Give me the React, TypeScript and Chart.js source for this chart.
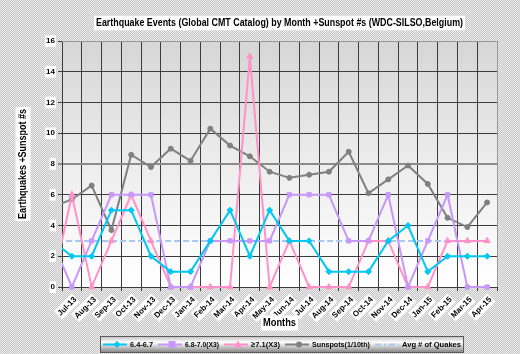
import React, { useEffect, useRef } from 'react';
import { Chart, registerables } from 'chart.js';

Chart.register(...registerables);

// Jun-13 is a leading month that lies just off the left edge of the axis (only its line segment shows)
const months = [
  'Jun-13', 'Jul-13', 'Aug-13', 'Sep-13', 'Oct-13', 'Nov-13', 'Dec-13',
  'Jan-14', 'Feb-14', 'Mar-14', 'Apr-14', 'May-14', 'Jun-14', 'Jul-14',
  'Aug-14', 'Sep-14', 'Oct-14', 'Nov-14', 'Dec-14', 'Jan-15', 'Feb-15',
  'Mar-15', 'Apr-15',
];
const quakes64to67 = [3, 2, 2, 5, 5, 2, 1, 1, 3, 5, 2, 5, 3, 3, 1, 1, 1, 3, 4, 1, 2, 2, 2];
const quakes68to70x3 = [3, 0, 3, 6, 6, 6, 0, 0, 3, 3, 3, 3, 6, 6, 6, 3, 3, 6, 0, 3, 6, 0, 0];
const quakes71plusx3 = [0, 6, 0, 3, 6, 3, 0, 0, 0, 0, 15, 0, 3, 0, 0, 0, 3, 3, 0, 0, 3, 3, 3];
const sunspotsTenth = [5.2, 5.7, 6.6, 3.7, 8.6, 7.8, 9.0, 8.2, 10.3, 9.2, 8.5, 7.5, 7.1, 7.3, 7.5, 8.8, 6.1, 7.0, 7.9, 6.7, 4.5, 3.9, 5.5];
const avgQuakes = [3, 3, 3, 3, 3, 3, 3, 3, 3, 3, 3, 3, 3, 3, 3, 3, 3, 3, 3, 3, 3, 3, 3];

const seriesNames = ['6.4-6.7', '6.8-7.0(X3)', '\u22657.1(X3)', 'Sunspots(1/10th)', 'Avg # of Quakes'];
const seriesColors = ['#00c8f2', '#c898f8', '#ff92c8', '#808080', '#a6c8f2'];
const seriesMarkers = ['rectRot', 'rect', 'triangle', 'circle', 'none'];

const chartTitle = 'Earthquake Events (Global CMT Catalog) by Month +Sunspot #s (WDC-SILSO,Belgium)';
const yTitle = 'Earthquakes +Sunspot #s';
const xTitle = 'Months';

const FONT = "'Liberation Sans', Arial, sans-serif";

function boxedText(ctx: CanvasRenderingContext2D, text: string, x: number, y: number, font: string, maxW: number, pad = 2) {
  ctx.font = font;
  const w = Math.min(ctx.measureText(text).width, maxW);
  const size = parseFloat(font.match(/(\d+(\.\d+)?)px/)![1]);
  ctx.fillStyle = '#ffffff';
  ctx.fillRect(x - w / 2 - pad, y - size / 2 - pad, w + pad * 2, size + pad * 2);
  ctx.fillStyle = '#000000';
  ctx.textAlign = 'center';
  ctx.textBaseline = 'middle';
  ctx.fillText(text, x, y, maxW);
}

function marker(ctx: CanvasRenderingContext2D, kind: string, x: number, y: number, color: string) {
  ctx.fillStyle = color;
  ctx.beginPath();
  if (kind === 'rectRot') {
    ctx.moveTo(x, y - 3.5); ctx.lineTo(x + 3.5, y); ctx.lineTo(x, y + 3.5); ctx.lineTo(x - 3.5, y);
  } else if (kind === 'rect') {
    ctx.rect(x - 3.5, y - 3.5, 7, 7);
  } else if (kind === 'triangle') {
    ctx.moveTo(x, y - 4); ctx.lineTo(x + 4, y + 3); ctx.lineTo(x - 4, y + 3);
  } else if (kind === 'circle') {
    ctx.arc(x, y, 3, 0, Math.PI * 2);
  } else {
    return;
  }
  ctx.closePath();
  ctx.fill();
}

const decorPlugin = {
  id: 'decor',
  beforeDraw(chart: any) {
    const { ctx, chartArea: a } = chart;
    const g = ctx.createLinearGradient(0, a.top, 0, a.bottom);
    g.addColorStop(0, '#d6d6d6');
    g.addColorStop(0.55, '#efefef');
    g.addColorStop(1, '#ffffff');
    ctx.save();
    ctx.fillStyle = g;
    ctx.fillRect(a.left, a.top, a.right - a.left, a.bottom - a.top);
    ctx.restore();
  },
  afterDraw(chart: any) {
    const { ctx, chartArea: a } = chart;
    ctx.save();
    // plot border (top/right)
    ctx.strokeStyle = '#9a9a9a';
    ctx.lineWidth = 1;
    ctx.beginPath();
    ctx.moveTo(a.left, a.top + 0.5);
    ctx.lineTo(a.right + 0.5, a.top + 0.5);
    ctx.lineTo(a.right + 0.5, a.bottom);
    ctx.stroke();

    const cx = (a.left + a.right) / 2;
    boxedText(ctx, chartTitle, cx, 23, `bold 10.5px ${FONT}`, 367, 2);
    boxedText(ctx, xTitle, cx, 323, `bold 11px ${FONT}`, 33, 2);
    ctx.save();
    ctx.translate(23, (a.top + a.bottom) / 2);
    ctx.rotate(-Math.PI / 2);
    boxedText(ctx, yTitle, 0, 0, `bold 11px ${FONT}`, 110, 2);
    ctx.restore();

    // legend
    const lx = 100, ly = 336, lw = 363, lh = 16;
    const lg = ctx.createLinearGradient(0, ly, 0, ly + lh);
    lg.addColorStop(0, '#bdbdbd');
    lg.addColorStop(0.4, '#ffffff');
    lg.addColorStop(1, '#8a8a8a');
    ctx.fillStyle = lg;
    ctx.fillRect(lx, ly, lw, lh);
    ctx.strokeStyle = '#5a5a5a';
    ctx.strokeRect(lx + 0.5, ly + 0.5, lw, lh);
    const itemX = [103, 158, 224, 285, 375, 466];
    const my = ly + lh / 2 + 0.5;
    for (let i = 0; i < seriesNames.length; i++) {
      const x0 = itemX[i];
      ctx.strokeStyle = seriesColors[i];
      ctx.lineWidth = 2;
      ctx.setLineDash(i === 4 ? [6, 3, 2, 3] : []);
      ctx.beginPath();
      ctx.moveTo(x0, my);
      ctx.lineTo(x0 + 24, my);
      ctx.stroke();
      ctx.setLineDash([]);
      marker(ctx, seriesMarkers[i], x0 + 14, my, seriesColors[i]);
      ctx.fillStyle = '#000';
      ctx.font = `bold 8px ${FONT}`;
      ctx.textAlign = 'left';
      ctx.textBaseline = 'middle';
      ctx.fillText(seriesNames[i], x0 + 27, my, itemX[i + 1] - x0 - 32);
    }
    ctx.restore();
  },
};

export default function App() {
  const ref = useRef<HTMLCanvasElement>(null);
  useEffect(() => {
    const tickFont = { family: FONT, size: 8, weight: 'bold' as const };
    const lineDs = (i: number, data: number[], radius: number) => ({
      label: seriesNames[i],
      data,
      borderColor: seriesColors[i],
      backgroundColor: seriesColors[i],
      pointBackgroundColor: seriesColors[i],
      pointBorderColor: seriesColors[i],
      pointStyle: seriesMarkers[i] as any,
      pointRadius: radius,
      pointBorderWidth: 1,
      borderWidth: 2,
      tension: 0,
      clip: { left: 0, top: 6, right: 6, bottom: 6 },
    });
    const chart = new Chart(ref.current!, {
      type: 'line',
      data: {
        labels: months,
        datasets: [
          lineDs(0, quakes64to67, 3),
          lineDs(1, quakes68to70x3, 3),
          lineDs(2, quakes71plusx3, 3.5),
          lineDs(3, sunspotsTenth, 2.5),
          {
            label: seriesNames[4],
            data: avgQuakes,
            borderColor: seriesColors[4],
            borderWidth: 2,
            borderDash: [6, 3],
            borderDashOffset: 4,
            pointRadius: 0,
            tension: 0,
            clip: { left: 0, top: 6, right: 6, bottom: 6 },
          } as any,
        ],
      },
      options: {
        responsive: false,
        devicePixelRatio: 1,
        animation: false,
        layout: { padding: { left: 0, right: 23, top: 41, bottom: 0 } },
        plugins: {
          legend: { display: false },
          title: { display: false },
          tooltip: { enabled: false },
        },
        scales: {
          x: {
            type: 'category',
            min: 'Jul-13',
            offset: true,
            grid: { offset: true, color: '#3c3c3c', lineWidth: 1, tickLength: 4, drawTicks: true },
            border: { color: '#3c3c3c' },
            ticks: {
              autoSkip: false,
              minRotation: 45,
              maxRotation: 45,
              font: tickFont,
              color: '#000',
              padding: 4,
              showLabelBackdrop: true,
              backdropColor: '#ffffff',
              backdropPadding: 1,
            },
            afterFit: (s: any) => { s.height = 67; },
          },
          y: {
            min: 0,
            max: 16,
            grid: {
              color: (c: any) => (c.tick && c.tick.value === 8 ? '#8c8c8c' : '#3c3c3c'),
              lineWidth: (c: any) => (c.tick && c.tick.value === 8 ? 2 : 1),
              tickLength: 4,
            },
            border: { color: '#3c3c3c' },
            ticks: {
              stepSize: 2,
              font: tickFont,
              color: '#000',
              padding: 3,
              showLabelBackdrop: true,
              backdropColor: '#ffffff',
              backdropPadding: 1,
            },
            afterFit: (s: any) => { s.width = 62; },
          },
        },
      },
      plugins: [decorPlugin],
    });
    return () => chart.destroy();
  }, []);
  return (
    <div
      style={{
        position: 'fixed',
        left: 0,
        top: 0,
        width: 520,
        height: 354,
        background: 'repeating-conic-gradient(#c4c4c4 0% 25%, #efefef 0% 50%) 0 0 / 2px 2px',
      }}
    >
      <canvas ref={ref} width={520} height={354} style={{ display: 'block', width: 520, height: 354 }} />
    </div>
  );
}
